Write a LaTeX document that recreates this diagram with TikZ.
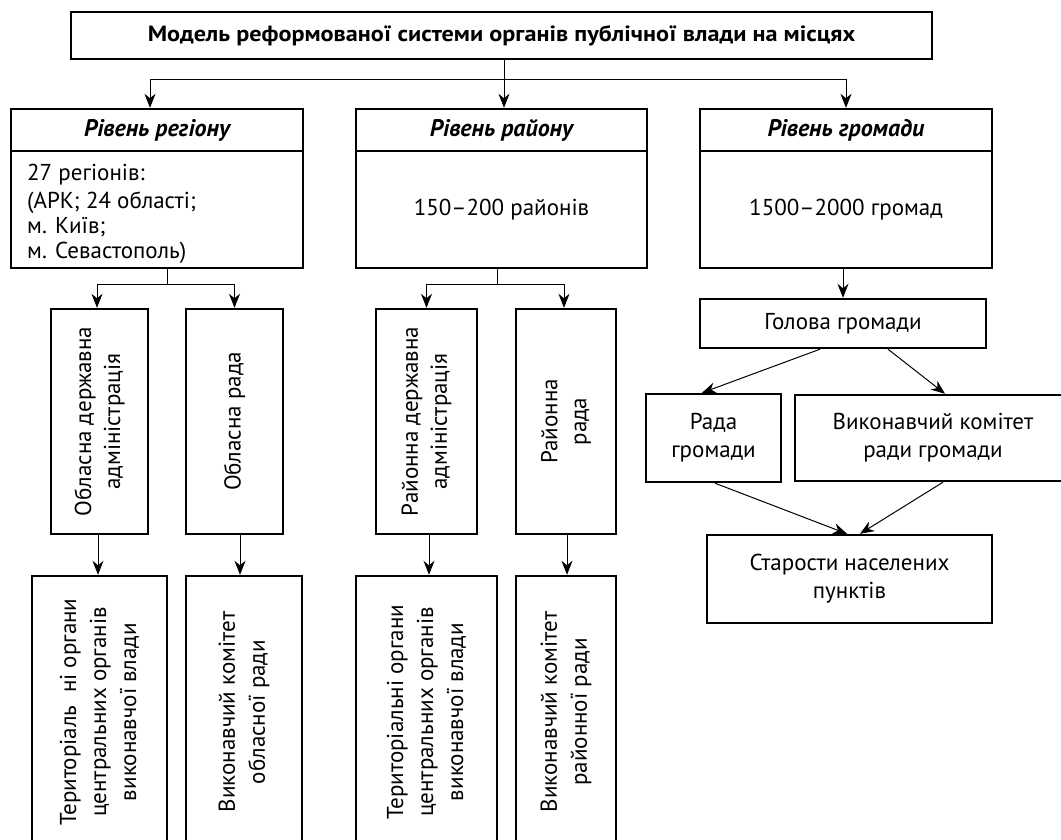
\documentclass[tikz,border=0pt]{standalone}
\usepackage{fontspec}
\setmainfont{PT Sans}
\newfontfamily\ttlfont[FakeStretch=1.1]{PT Sans}
\usetikzlibrary{arrows.meta,calc}
\begin{document}
\begin{tikzpicture}[x=1pt,y=-1pt,
  box/.style={draw, line width=2.4pt, inner sep=0pt},
  ln/.style={line width=1pt},
  arr/.style={line width=1pt, -{Stealth[length=14pt,width=11pt,inset=4.5pt]}},
  txt/.style={font=\fontsize{23}{28}\selectfont, align=center, inner sep=0pt},
  vtxt/.style={font=\fontsize{23}{29}\selectfont, align=center, inner sep=0pt, rotate=90},
  hdr/.style={font=\fontsize{24}{28}\selectfont\bfseries\itshape, inner sep=0pt},
  ttl/.style={font=\ttlfont\fontsize{22}{26}\selectfont\bfseries, inner sep=0pt}]
\useasboundingbox (0,0) rectangle (1061,840);
\clip (0,0) rectangle (1061,840);
\fill[white] (0,0) rectangle (1061,840);

% title
\node[box, minimum width=861pt, minimum height=47pt] (T) at (501.5,35.5) {};
\node[ttl] (Tt) at (T.center) {Модель реформованої системи органів публічної влади на місцях};

% level boxes
\node[box, minimum width=292pt, minimum height=42pt] (Lh) at (157,130) {};
\node[box, minimum width=292pt, minimum height=117pt] (Lb) at (157,209.5) {};
\node[box, minimum width=291pt, minimum height=42pt] (Mh) at (501.5,130) {};
\node[box, minimum width=291pt, minimum height=117pt] (Mb) at (501.5,209.5) {};
\node[box, minimum width=292pt, minimum height=42pt] (Rh) at (846,130) {};
\node[box, minimum width=292pt, minimum height=117pt] (Rb) at (846,209.5) {};

\node[hdr] (Lht) at (Lh.center) {Рівень регіону};
\node[hdr] (Mht) at (Mh.center) {Рівень району};
\node[hdr] (Rht) at (Rh.center) {Рівень громади};

\node[txt, align=left, anchor=west, font=\fontsize{23}{25}\selectfont] (Lbt) at (27,214) {27 регіонів:\\[3pt](АРК; 24 області;\\м. Київ;\\м. Севастополь)};
\node[txt] (Mbt) at (Mb.center) {150–200 районів};
\node[txt] (Rbt) at (Rb.center) {1500–2000 громад};

% second row (vertical)
\node[box, minimum width=97pt, minimum height=225pt] (A1) at (99.5,421.5) {};
\node[box, minimum width=97pt, minimum height=225pt] (A2) at (234.5,421.5) {};
\node[box, minimum width=101pt, minimum height=225pt] (B1) at (426.5,421.5) {};
\node[box, minimum width=100pt, minimum height=225pt] (B2) at (566,421.5) {};
\node[vtxt] (A1t) at (A1.center) {Обласна державна\\адміністрація};
\node[vtxt] (A2t) at (A2.center) {Обласна рада};
\node[vtxt] (B1t) at (B1.center) {Районна державна\\адміністрація};
\node[vtxt] (B2t) at (B2.center) {Районна\\рада};

% third row (vertical)
\node[box, minimum width=135pt, minimum height=272pt] (C1) at (99.5,712) {};
\node[box, minimum width=116pt, minimum height=272pt] (C2) at (244,712) {};
\node[box, minimum width=141pt, minimum height=272pt] (D1) at (426.5,712) {};
\node[box, minimum width=100pt, minimum height=272pt] (D2) at (566,712) {};
\node[vtxt, font=\fontsize{23}{30}\selectfont] (C1t) at (C1.center) {Територіаль\hspace{0.55em}ні органи\\центральних органів\\виконавчої влади};
\node[vtxt, font=\fontsize{23}{30}\selectfont] (C2t) at (C2.center) {Виконавчий комітет\\обласної ради};
\node[vtxt, font=\fontsize{23}{30}\selectfont] (D1t) at (D1.center) {Територіальні органи\\центральних органів\\виконавчої влади};
\node[vtxt, font=\fontsize{23}{30}\selectfont] (D2t) at (D2.center) {Виконавчий комітет\\районної ради};

% community branch
\node[box, minimum width=286pt, minimum height=49pt] (G) at (843,323.5) {};
\node[txt] (Gt) at (G.center) {Голова громади};
\node[box, minimum width=135pt, minimum height=88pt] (RG) at (713.5,438) {};
\node[txt] (RGt) at (RG.center) {Рада\\громади};
\node[box, minimum width=276pt, minimum height=86pt] (V) at (933,438) {};
\node[txt] (Vt) at (V.center) {Виконавчий комітет\\ради громади};
\node[box, minimum width=285pt, minimum height=88pt] (S) at (849.5,579) {};
\node[txt] (St) at (S.center) {Старости населених\\пунктів};

% connectors from title
\coordinate (j0) at ($(T.south)+(2.5,19)$);
\draw[ln] (T.south -| j0) -- (j0);
\draw[arr] (j0) -| ([xshift=-7pt]Lh.north);
\draw[arr] (j0) -| ([xshift=2.5pt]Mh.north);
\draw[arr] (j0) -| (Rh.north);

% region branch
\coordinate (jl) at ($(Lb.south)+(10,15)$);
\draw[ln] (Lb.south -| jl) -- (jl);
\draw[arr] (jl) -| ([xshift=-2.5pt]A1.north);
\draw[arr] (jl) -| (A2.north);

% district branch
\coordinate (jm) at ($(Mb.south)+(-4.5,15)$);
\draw[ln] (Mb.south -| jm) -- (jm);
\draw[arr] (jm) -| (B1.north);
\draw[arr] (jm) -| ([xshift=-2pt]B2.north);

% down to third row
\draw[arr] ([xshift=-1.5pt]A1.south) -- ([xshift=-1.5pt]A1.south |- C1.north);
\draw[arr] ([xshift=5.5pt]A2.south) -- ([xshift=5.5pt]A2.south |- C2.north);
\draw[arr] ([xshift=2.5pt]B1.south) -- ([xshift=2.5pt]B1.south |- D1.north);
\draw[arr] ([xshift=1pt]B2.south) -- ([xshift=1pt]B2.south |- D2.north);

% community connectors
\draw[arr] (G.north |- Rb.south) -- (G.north);
\draw[arr] ([xshift=-23pt]G.south) -- ([xshift=-11.5pt]RG.north);
\draw[arr] ([xshift=45pt]G.south) -- ([xshift=12pt]V.north);
\draw[arr] ([xshift=1.5pt]RG.south) -- ([xshift=-2.5pt]S.north);
\draw[arr] ([xshift=10pt]V.south) -- ([xshift=10.5pt]S.north);
\end{tikzpicture}
\end{document}
